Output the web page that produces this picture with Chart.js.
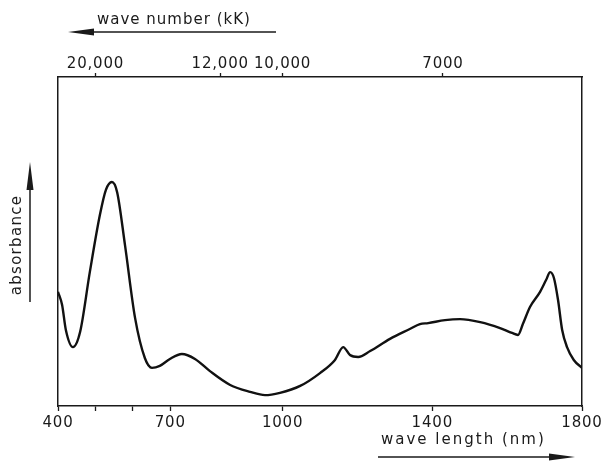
<!DOCTYPE html>
<html><head><meta charset="utf-8">
<script src="https://cdn.jsdelivr.net/npm/chart.js@4/dist/chart.umd.min.js"></script>
<style>html,body{margin:0;padding:0;background:#fff}#wrap{width:606px;height:463px}</style>
</head><body><div id="wrap"><canvas id="c" width="606" height="463"></canvas></div>
<script>
// wave length (nm)
const wavelengths = [400,411,421,440,459,485,512,528,544,558,579,606,632,651,672,699,731,766,806,860,913,953,993,1047,1100,1140,1162,1180,1202,1234,1287,1340,1367,1389,1434,1474,1528,1581,1613,1629,1642,1661,1688,1704,1715,1725,1736,1747,1760,1778,1800];
// absorbance (arbitrary units)
const absorbance = [34.7,30.7,23.1,17.9,22.5,40.7,58.1,65.7,68.1,65.0,48.9,26.7,14.6,11.6,12.2,14.3,15.8,14.3,10.6,6.4,4.3,3.3,4.0,6.1,10.0,14.0,17.9,15.5,14.9,16.7,20.4,23.4,24.9,25.2,26.1,26.4,25.5,23.7,22.2,21.6,24.9,30.1,34.7,38.3,40.7,38.9,32.2,23.1,17.9,14.0,11.6];
const bottomTicks = [400,500,600,700,1000,1400,1800];
const bottomTickLabels = ['400','','','700','1000','1400','1800'];
const waveNumbers = [20000,12000,10000,7000]; // cm^-1
const waveNumberLabels = ['20,000','12,000','10,000','7000'];
const xTitle = 'wave length (nm)';
const x2Title = 'wave number (kK)';
const yTitle = 'absorbance';

const FONT = '"DejaVu Sans", sans-serif';
const INK = '#1a1a1a';

const annot = {
  id: 'annot',
  beforeDraw(chart) {
    chart.ctx.letterSpacing = '0.8px';
  },
  afterDraw(chart) {
    const ctx = chart.ctx;
    ctx.save();
    ctx.fillStyle = INK; ctx.strokeStyle = INK;
    ctx.font = '15px ' + FONT;
    ctx.textBaseline = 'middle'; ctx.textAlign = 'left';
    // top title + left arrow
    ctx.letterSpacing = '1px';
    ctx.fillText(x2Title, 97, 20);
    ctx.lineWidth = 1.5;
    ctx.beginPath(); ctx.moveTo(276, 32); ctx.lineTo(88, 32); ctx.stroke();
    ctx.beginPath(); ctx.moveTo(68, 32); ctx.lineTo(94, 28.5); ctx.lineTo(94, 35.5); ctx.closePath(); ctx.fill();
    // bottom title + right arrow
    ctx.letterSpacing = '2px';
    ctx.fillText(xTitle, 381, 440);
    ctx.beginPath(); ctx.moveTo(378, 457); ctx.lineTo(555, 457); ctx.stroke();
    ctx.beginPath(); ctx.moveTo(575, 457); ctx.lineTo(549, 453.5); ctx.lineTo(549, 460.5); ctx.closePath(); ctx.fill();
    // y title + up arrow
    ctx.save();
    ctx.letterSpacing = '1.3px';
    ctx.translate(17, 245); ctx.rotate(-Math.PI / 2);
    ctx.textAlign = 'center';
    ctx.fillText(yTitle, 0, 0);
    ctx.restore();
    ctx.beginPath(); ctx.moveTo(30, 302); ctx.lineTo(30, 180); ctx.stroke();
    ctx.beginPath(); ctx.moveTo(30, 162); ctx.lineTo(26.5, 190); ctx.lineTo(33.5, 190); ctx.closePath(); ctx.fill();
    ctx.restore();
  }
};

const axisBase = {
  type: 'linear', min: 400, max: 1800,
  border: { display: true, color: INK, width: 1.5 },
  ticks: { autoSkip: false, maxRotation: 0, color: INK, font: { family: FONT, size: 15 } }
};

new Chart(document.getElementById('c'), {
  type: 'line',
  data: {
    datasets: [{
      data: wavelengths.map((w, i) => ({ x: w, y: absorbance[i] })),
      borderColor: '#111', borderWidth: 2.4, pointRadius: 0,
      cubicInterpolationMode: 'monotone', fill: false
    }]
  },
  plugins: [annot],
  options: {
    responsive: false, animation: false, devicePixelRatio: 1,
    layout: { padding: 0 },
    plugins: { legend: { display: false }, tooltip: { enabled: false } },
    scales: {
      x: {
        ...axisBase, position: 'bottom',
        afterBuildTicks: s => { s.ticks = bottomTicks.map(v => ({ value: v })); },
        ticks: { ...axisBase.ticks, padding: 3, callback: (v, i) => bottomTickLabels[i] },
        grid: { display: true, drawOnChartArea: false, drawTicks: true, tickLength: 5, color: INK, tickWidth: 1.3 },
        afterFit: s => { s.height = 463 - 406; }
      },
      x2: {
        ...axisBase, position: 'top',
        afterBuildTicks: s => { s.ticks = waveNumbers.map(w => ({ value: 1e7 / w })); },
        ticks: { ...axisBase.ticks, padding: 0, callback: (v, i) => waveNumberLabels[i] },
        grid: { display: true, drawOnChartArea: false, drawTicks: true, tickLength: 4, color: INK, tickWidth: 1.3 },
        afterFit: s => { s.height = 77; }
      },
      y: {
        type: 'linear', position: 'left', min: 0, max: 100,
        ticks: { display: false },
        grid: { display: true, drawOnChartArea: false, drawTicks: false },
        border: { display: true, color: INK, width: 1.5 },
        afterFit: s => { s.width = 58; }
      },
      y2: {
        type: 'linear', position: 'right', min: 0, max: 100,
        ticks: { display: false },
        grid: { display: true, drawOnChartArea: false, drawTicks: false },
        border: { display: true, color: INK, width: 1.5 },
        afterFit: s => { s.width = 606 - 582; }
      }
    }
  }
});
</script>
</body></html>
